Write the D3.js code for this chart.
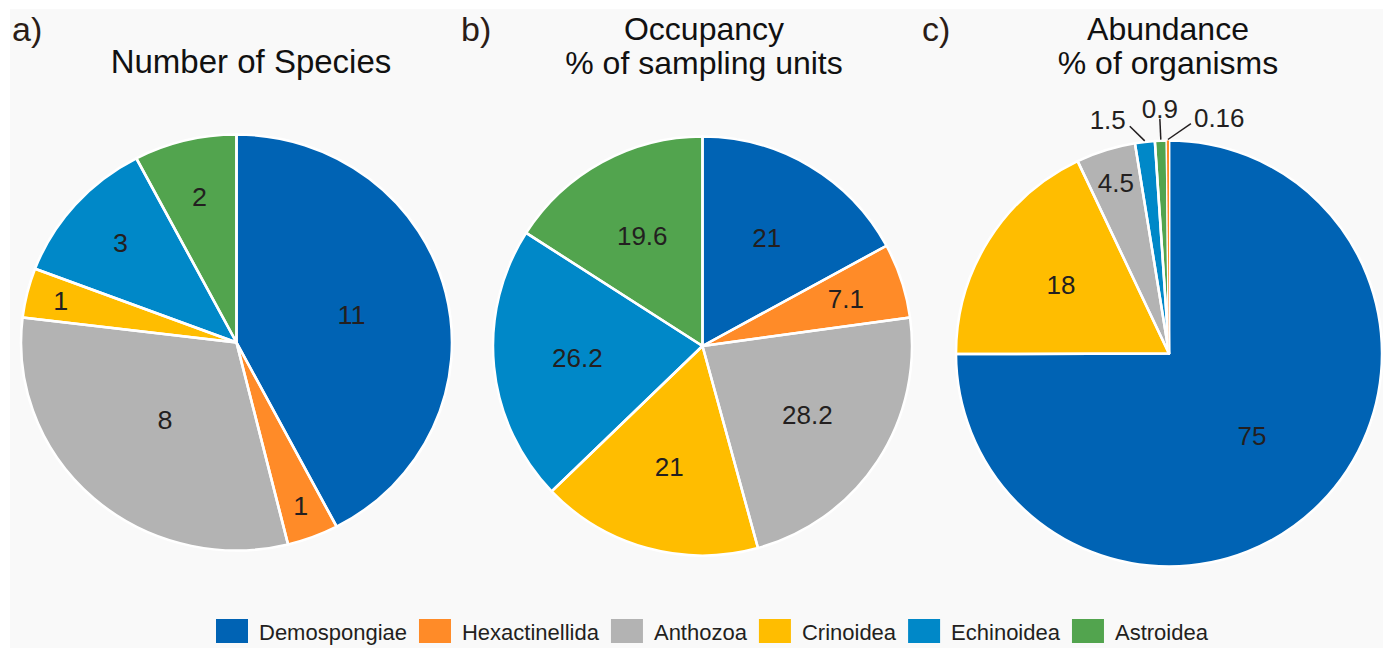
<!DOCTYPE html>
<html>
<head>
<meta charset="utf-8">
<style>
    body {
        margin: 0;
        background: #ffffff;
    }

    svg {
        display: block;
        font-family: "Liberation Sans", Arial, sans-serif;
    }

    .title {
        font-size: 32px;
        fill: #111111;
        text-anchor: middle;
    }

    .letter {
        font-size: 34px;
        fill: #2b1d17;
    }

    .value {
        font-size: 26px;
        fill: #231f20;
        text-anchor: middle;
    }

    .legend-label {
        font-size: 22px;
        fill: #231f20;
    }
</style>
</head>
<body>
<div id="chart"></div>
<script src="https://cdn.jsdelivr.net/npm/d3@7"></script>
<script>
    var categories = ["Demospongiae", "Hexactinellida", "Anthozoa", "Crinoidea", "Echinoidea", "Astroidea"];
    var speciesCounts = [11, 1, 8, 1, 3, 2];
    var occupancyPct = [21, 7.1, 28.2, 21, 26.2, 19.6];
    var abundancePct = [75, 0.16, 4.5, 18, 1.5, 0.9];
    // slice order used in panel c (clockwise from 12 o'clock)
    var abundanceOrder = ["Demospongiae", "Crinoidea", "Anthozoa", "Echinoidea", "Astroidea", "Hexactinellida"];
    var panelLetters = ["a)", "b)", "c)"];
    var panelTitles = [["Number of Species"], ["Occupancy", "% of sampling units"], ["Abundance", "% of organisms"]];

    var colour = d3.scaleOrdinal()
        .domain(categories)
        .range(["#0063b4", "#ff8b28", "#b3b3b3", "#ffbd00", "#0088c8", "#52a44e"]);

    var width = 1389, height = 648;

    var svg = d3.select("#chart").append("svg")
        .attr("width", width)
        .attr("height", height);

    // light grey figure panel
    svg.append("rect")
        .attr("x", 10).attr("y", 9)
        .attr("width", 1373).attr("height", height - 9)
        .attr("fill", "#f9f9f9");

    // pie centre, radius and horizontal stretch (panel a is a bit oval in the original)
    var panels = [
        { values: speciesCounts, order: categories, cx: 236.5, cy: 342.5, r: 208, sx: 1.036, letterX: 12, titleX: 251, titleSize: 33 },
        { values: occupancyPct, order: categories, cx: 702.5, cy: 346, r: 209.5, sx: 1, letterX: 461, titleX: 704, titleSize: 32 },
        { values: abundancePct, order: abundanceOrder, cx: 1169, cy: 353.5, r: 213, sx: 1, letterX: 922, titleX: 1168, titleSize: 32 }
    ];

    // how far out (fraction of the radius) a value label sits, by slice share
    function labelRatio(f) {
        if (f > 0.4) return 0.55;
        if (f > 0.3) return 0.5;
        if (f >= 0.15) return 0.6;
        if (f >= 0.05) return 0.72;
        return 0.84;
    }

    panels.forEach(function (p, i) {
        svg.append("text")
            .attr("class", "letter")
            .attr("x", p.letterX)
            .attr("y", 41)
            .text(panelLetters[i]);

        var lines = panelTitles[i];
        svg.selectAll(null)
            .data(lines)
            .enter()
            .append("text")
            .attr("class", "title")
            .style("font-size", p.titleSize + "px")
            .attr("x", p.titleX)
            .attr("y", (d, k) => lines.length == 1 ? 73 : 40 + k * 34)
            .text(d => d);

        var rows = p.order.map(function (name) {
            return { name: name, value: p.values[categories.indexOf(name)] };
        });
        var total = d3.sum(rows, d => d.value);
        var arcs = d3.pie().sort(null).value(d => d.value)(rows);
        var arc = d3.arc().innerRadius(0).outerRadius(p.r);
        var frac = d => d.data.value / total;

        var g = svg.append("g")
            .attr("transform", "translate(" + p.cx + "," + p.cy + ") scale(" + p.sx + ",1)");

        g.selectAll("path.slice")
            .data(arcs)
            .join("path")
            .attr("class", "slice")
            .attr("d", arc)
            .attr("fill", d => colour(d.data.name));

        g.selectAll("path.edge")
            .data(arcs)
            .join("path")
            .attr("class", "edge")
            .attr("d", arc)
            .attr("fill", "none")
            .attr("stroke", "#ffffff")
            .attr("stroke-width", 2.5)
            .attr("stroke-linejoin", "round");

        // very thin slivers would vanish under the white edge, so paint them again on top
        g.selectAll("path.sliver")
            .data(arcs.filter(d => frac(d) < 0.005))
            .join("path")
            .attr("class", "sliver")
            .attr("d", arc)
            .attr("fill", d => colour(d.data.name));

        var mid = d => (d.startAngle + d.endAngle) / 2;

        // labels inside the slices
        g.selectAll("text.inside")
            .data(arcs.filter(d => frac(d) >= 0.02))
            .join("text")
            .attr("class", "value inside")
            .attr("x", d => Math.sin(mid(d)) * p.r * labelRatio(frac(d)))
            .attr("y", d => -Math.cos(mid(d)) * p.r * labelRatio(frac(d)))
            .attr("dy", "0.35em")
            .text(d => String(d.data.value));

        // tiny slices get labels outside with leader lines
        var outside = arcs.filter(d => frac(d) < 0.02);
        if (outside.length) {
            var labels = g.selectAll("text.outside")
                .data(outside)
                .join("text")
                .attr("class", "value outside")
                .attr("dy", "0.35em")
                .text(d => String(d.data.value));

            var items = [];
            labels.each(function (d) {
                items.push({
                    d: d,
                    node: this,
                    w: this.getComputedTextLength(),
                    tx: Math.sin(mid(d)) * (p.r + 26)
                });
            });
            items.sort((a, b) => a.tx - b.tx);

            // spread horizontally around the middle label
            var gap = 16;
            var m = Math.floor(items.length / 2);
            items[m].x = items[m].tx;
            for (var k = m - 1; k >= 0; k--) items[k].x = items[k + 1].x - items[k + 1].w / 2 - gap - items[k].w / 2;
            for (var k = m + 1; k < items.length; k++) items[k].x = items[k - 1].x + items[k - 1].w / 2 + gap + items[k].w / 2;

            var lr = p.r + 32;
            items.forEach(function (it) {
                it.y = -Math.sqrt(lr * lr - it.x * it.x);
                if (it !== items[m]) it.y += 4;
                d3.select(it.node).attr("x", it.x).attr("y", it.y);

                var ex = Math.sin(mid(it.d)) * (p.r + 1);
                var ey = -Math.cos(mid(it.d)) * (p.r + 1);
                var lx, ly;
                if (it.x < ex - 15) { lx = it.x + it.w / 2 + 4; ly = it.y + 6; }
                else if (it.x > ex + 15) { lx = it.x - it.w / 2 - 3; ly = it.y + 6; }
                else { lx = it.x; ly = it.y + 10; }

                g.append("line")
                    .attr("x1", ex).attr("y1", ey)
                    .attr("x2", lx).attr("y2", ly)
                    .attr("stroke", "#231f20")
                    .attr("stroke-width", 1.5);
            });
        }
    });

    // legend along the bottom
    var legend = svg.append("g").attr("transform", "translate(216,619)");
    var lx = 0;
    categories.forEach(function (name) {
        legend.append("rect")
            .attr("x", lx).attr("y", 0)
            .attr("width", 32).attr("height", 24)
            .attr("fill", colour(name));
        var t = legend.append("text")
            .attr("class", "legend-label")
            .attr("x", lx + 32 + 11)
            .attr("y", 21)
            .text(name);
        lx += 32 + 11 + t.node().getComputedTextLength() + 12;
    });
</script>
</body>
</html>
